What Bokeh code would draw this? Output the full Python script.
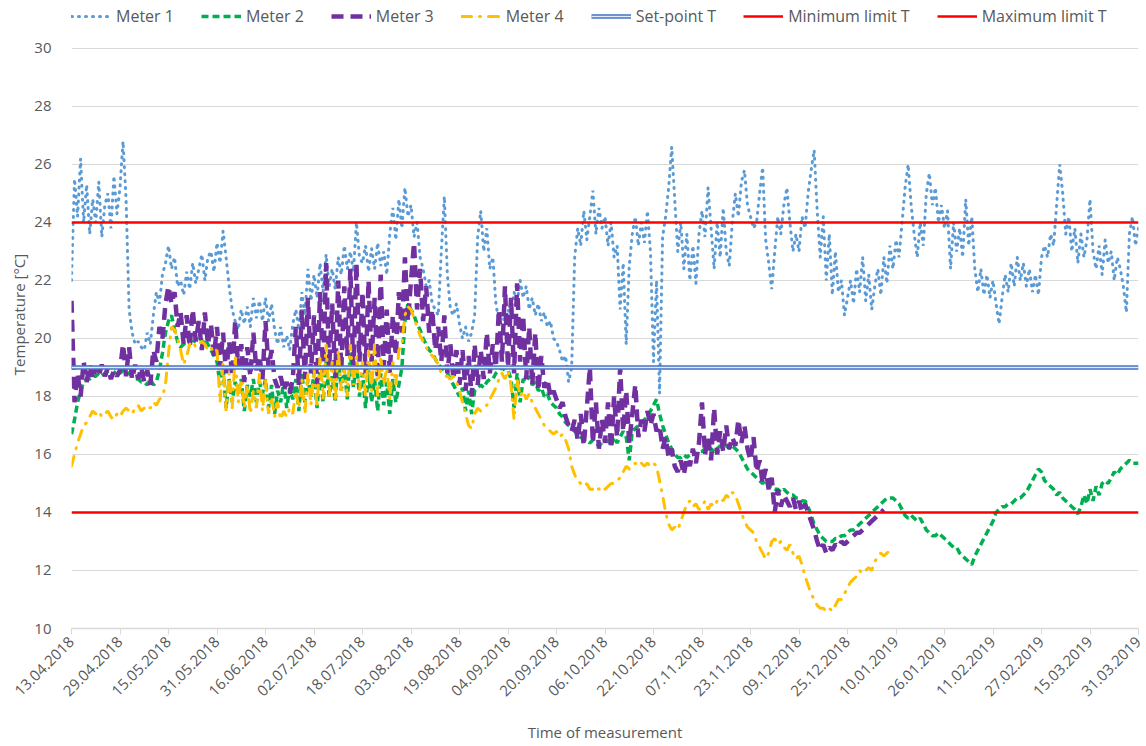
from datetime import datetime, timedelta
from math import pi

from bokeh.plotting import figure
from bokeh.models import (Legend, LegendItem, FixedTicker, DatetimeTickFormatter,
                          Range1d)
from bokeh.embed import file_html
from bokeh.resources import INLINE

# ---------------- data (daily readings from 13.04.2018) ----------------
start_date = "13.04.2018"

tick_labels = ["13.04.2018", "29.04.2018", "15.05.2018", "31.05.2018", "16.06.2018",
               "02.07.2018", "18.07.2018", "03.08.2018", "19.08.2018", "04.09.2018",
               "20.09.2018", "06.10.2018", "22.10.2018", "07.11.2018", "23.11.2018",
               "09.12.2018", "25.12.2018", "10.01.2019", "26.01.2019", "11.02.2019",
               "27.02.2019", "15.03.2019", "31.03.2019"]

y_ticks = [10, 12, 14, 16, 18, 20, 22, 24, 26, 28, 30]

meter1 = [
    22.0, 25.5, 24.2, 26.2, 24.0, 25.3, 23.6, 24.8, 24.0, 25.4, 23.5, 24.6, 25.0, 23.8, 25.6, 24.3,
    25.2, 26.8, 24.8, 21.0, 20.2, 19.8, 19.9, 19.7, 19.6, 20.2, 19.8, 20.8, 21.6, 21.2, 22.2, 22.6,
    23.2, 22.4, 22.8, 21.8, 22.0, 21.5, 22.3, 21.7, 22.6, 21.9, 22.4, 22.9, 22.0, 22.8, 23.0, 22.3,
    23.3, 22.6, 23.7, 22.8, 21.8, 21.0, 20.6, 20.3, 21.0, 20.5, 21.1, 20.4, 21.4, 20.7, 21.3, 20.6,
    21.4, 20.6, 21.2, 20.3, 19.8, 20.4, 19.7, 20.1, 19.6, 20.5, 21.0, 20.3, 21.6, 20.8, 22.4, 21.3,
    22.2, 21.4, 22.6, 21.6, 22.9, 21.8, 22.4, 21.7, 22.8, 22.2, 23.2, 22.4, 23.0, 22.3, 24.0, 22.8,
    22.6, 23.2, 22.3, 23.1, 22.4, 23.3, 22.5, 23.0, 22.2, 23.6, 24.5, 23.4, 24.8, 23.8, 25.2, 24.2,
    24.6, 23.5, 24.0, 22.8, 22.4, 21.8, 22.0, 21.2, 21.0, 20.8, 23.0, 24.9, 22.2, 21.0, 20.8, 21.2,
    20.5, 20.0, 20.4, 19.9, 20.2, 20.8, 23.5, 24.4, 23.0, 23.8, 22.4, 22.8, 21.2, 20.6, 20.9, 20.5,
    21.0, 20.7, 21.6, 21.2, 22.0, 21.4, 21.8, 21.0, 21.4, 20.8, 21.2, 20.6, 20.9, 20.4, 20.6, 20.0,
    19.9, 19.6, 19.2, 19.4, 18.5, 19.0, 22.8, 23.8, 23.2, 24.4, 23.4, 24.2, 25.1, 23.6, 24.5, 23.8,
    24.2, 23.2, 24.0, 22.8, 23.2, 21.0, 22.6, 19.8, 22.5, 23.6, 24.2, 23.2, 24.0, 23.3, 24.4, 23.0,
    19.2, 22.0, 18.1, 23.5, 24.2, 25.2, 26.6, 24.8, 23.0, 24.0, 22.4, 23.6, 22.0, 23.2, 21.9, 23.6,
    24.4, 23.5, 25.2, 23.8, 22.4, 24.0, 22.8, 24.5, 23.0, 22.5, 24.0, 25.0, 24.2, 25.4, 25.8, 24.6,
    24.2, 23.8, 24.0, 25.0, 25.9, 23.4, 22.6, 21.7, 23.0, 24.2, 23.6, 24.6, 25.2, 24.0, 23.0, 23.6,
    23.0, 24.2, 23.8, 25.0, 25.8, 26.5, 24.4, 22.8, 24.2, 22.0, 23.6, 21.5, 23.0, 21.6, 22.0, 20.8,
    21.4, 22.0, 21.2, 22.4, 21.6, 22.8, 21.3, 22.2, 21.0, 21.8, 22.4, 21.5, 22.8, 21.9, 23.2, 22.4,
    23.4, 22.8, 24.0, 25.2, 26.0, 24.6, 23.6, 22.8, 24.0, 23.2, 25.0, 25.7, 24.6, 25.2, 24.0, 24.6,
    23.8, 24.4, 22.4, 24.0, 23.0, 23.8, 22.8, 24.8, 23.2, 24.2, 22.4, 21.6, 22.4, 21.5, 22.2, 21.4,
    22.0, 21.2, 20.5, 21.4, 22.2, 21.6, 22.6, 21.8, 22.8, 22.0, 22.6, 21.8, 22.4, 21.6, 22.2, 21.5,
    22.8, 23.2, 22.8, 23.6, 23.2, 24.6, 26.0, 25.0, 23.6, 24.2, 23.0, 23.8, 22.6, 23.6, 22.8, 23.4,
    24.8, 23.0, 22.4, 23.2, 22.2, 23.4, 22.6, 23.0, 22.0, 22.8, 22.4, 21.8, 20.9, 23.6, 24.2, 23.2,
    23.8,
]

meter2 = [
    16.7, 17.2, 17.8, 18.2, 18.5, 18.6, 18.6, 18.7, 18.7, 18.8, 18.7, 18.8, 18.8, 18.7, 18.8, 18.9,
    18.8, 18.9, 18.9, 18.8, 18.7, 18.6, 18.6, 18.5, 18.5, 18.4, 18.6, 18.4, 18.5, 18.9, 19.5, 20.2,
    20.6, 20.8, 20.3, 19.9, 19.7, 19.8, 19.9, 20.0, 19.8, 20.0, 20.1, 19.9, 20.0, 19.8, 19.6, 19.4,
    19.2, 18.4, 19.0, 17.6, 18.6, 17.8, 18.5, 18.2, 18.6, 17.5, 18.4, 18.0, 18.6, 17.8, 18.5, 18.1,
    18.6, 17.6, 18.4, 17.4, 18.2, 17.8, 18.5, 17.6, 18.3, 17.9, 18.6, 17.5, 18.8, 17.8, 18.6, 18.0,
    18.8, 17.6, 18.9, 17.8, 19.2, 18.0, 18.7, 17.8, 19.4, 18.2, 19.0, 17.9, 19.5, 18.3, 19.2, 18.0,
    18.8, 17.6, 18.9, 17.8, 18.6, 17.5, 18.8, 17.7, 18.5, 17.4, 18.6, 17.8, 18.4, 19.0, 20.6, 21.2,
    21.0, 20.8, 20.5, 20.3, 20.0, 19.8, 19.6, 19.5, 19.3, 19.1, 19.0, 18.9, 18.8, 18.6, 18.4, 18.2,
    18.0, 18.3, 17.5, 18.2, 17.4, 18.2, 18.3, 18.4, 18.3, 18.5, 18.6, 18.6, 18.8, 18.9, 19.0, 18.9,
    18.9, 18.6, 17.6, 18.8, 17.8, 18.6, 18.5, 18.7, 18.4, 18.5, 18.2, 18.3, 18.0, 18.1, 17.8, 17.7,
    17.6, 17.4, 17.3, 17.1, 17.0, 16.9, 16.8, 16.7, 16.6, 16.5, 16.5, 16.4, 16.5, 16.4, 16.3, 16.4,
    16.4, 16.5, 16.3, 16.6, 16.4, 16.6, 16.8, 16.6, 15.8, 16.8, 16.9, 17.0, 17.1, 17.2, 17.3, 17.5,
    17.7, 17.9, 17.4, 17.0, 16.7, 16.4, 16.2, 16.0, 15.9, 15.9, 16.0, 15.9, 16.0, 16.1, 16.0, 16.1,
    16.1, 16.2, 16.1, 16.2, 16.1, 16.2, 16.3, 16.2, 16.3, 16.2, 16.3, 16.2, 16.1, 15.9, 15.7, 15.5,
    15.4, 15.3, 15.2, 15.1, 15.0, 15.1, 14.9, 14.9, 14.8, 14.8, 14.7, 14.8, 14.7, 14.6, 14.6, 14.5,
    14.5, 14.4, 14.4, 14.2, 13.9, 13.6, 13.4, 13.2, 13.1, 13.0, 13.0, 13.0, 13.1, 13.1, 13.2, 13.2,
    13.3, 13.4, 13.4, 13.5, 13.6, 13.7, 13.8, 13.9, 14.0, 14.1, 14.2, 14.3, 14.4, 14.5, 14.5, 14.5,
    14.4, 14.3, 14.1, 13.9, 13.8, 13.9, 13.8, 13.7, 13.8, 13.6, 13.4, 13.3, 13.2, 13.2, 13.3, 13.2,
    13.1, 13.0, 12.9, 12.8, 12.8, 12.6, 12.5, 12.4, 12.3, 12.2, 12.5, 12.7, 12.9, 13.1, 13.3, 13.5,
    13.7, 14.0, 14.1, 14.2, 14.2, 14.3, 14.3, 14.4, 14.5, 14.5, 14.6, 14.7, 14.9, 15.1, 15.3, 15.5,
    15.4, 15.1, 15.0, 14.9, 14.8, 14.6, 14.7, 14.5, 14.4, 14.3, 14.2, 14.1, 13.95, 14.2, 14.6, 14.3,
    14.8, 14.4, 14.9, 14.6, 15.0, 15.1, 15.0, 15.2, 15.4, 15.3, 15.5, 15.6, 15.7, 15.8, 15.7, 15.7,
    15.7,
]

meter3 = [
    21.3, 17.8, 18.8, 18.0, 19.2, 18.5, 19.1, 18.6, 19.0, 18.7, 19.1, 18.7, 19.0, 18.6, 18.9, 18.7,
    18.9, 19.8, 18.7, 19.7, 18.6, 19.1, 18.6, 19.0, 18.5, 18.9, 18.4, 19.6, 19.2, 20.4, 20.0, 21.2,
    21.8, 21.2, 21.6, 20.4, 20.9, 19.8, 20.8, 19.7, 21.0, 19.9, 20.6, 19.6, 20.9, 19.8, 20.5, 19.4,
    20.4, 19.0, 20.2, 18.8, 19.9, 18.7, 20.6, 19.0, 19.8, 18.5, 19.7, 18.7, 20.2, 18.9, 19.4, 18.6,
    20.6, 19.0, 19.6, 18.6, 18.3, 18.7, 18.2, 18.5, 18.1, 18.6, 20.4, 18.4, 21.0, 18.6, 21.4, 18.8,
    20.8, 18.4, 21.6, 18.8, 22.6, 19.0, 21.2, 18.6, 22.0, 18.9, 21.8, 19.4, 22.4, 18.8, 22.6, 19.2,
    21.6, 18.8, 22.0, 19.2, 21.4, 18.6, 22.2, 19.0, 21.0, 18.8, 20.8, 19.4, 21.6, 20.2, 22.8, 20.6,
    22.0, 23.3, 21.0, 22.4, 20.6, 21.8, 20.2, 21.0, 19.6, 20.4, 19.2, 20.8, 18.8, 19.8, 18.6, 19.6,
    18.4, 19.6, 18.2, 19.4, 18.0, 19.8, 18.4, 19.6, 18.6, 20.2, 18.8, 19.8, 19.0, 21.0, 19.2, 21.8,
    19.0, 21.4, 18.8, 21.9, 19.2, 20.8, 18.6, 20.4, 18.4, 20.2, 18.2, 19.4, 18.3, 18.6, 18.0, 18.2,
    17.9, 17.6, 17.8, 17.3, 17.0, 16.8, 17.2, 16.5, 17.4, 16.3, 17.6, 19.0, 16.4, 17.8, 16.2, 17.2,
    16.4, 17.8, 16.2, 18.0, 16.6, 19.0, 16.8, 18.2, 16.4, 17.4, 18.4, 16.6, 17.2, 16.8, 17.5, 17.0,
    17.4, 16.8, 17.0, 16.2, 16.6, 15.9, 16.2, 15.6, 15.4, 15.8, 15.3, 15.9, 15.6, 16.2, 15.7, 16.4,
    17.8, 16.0, 16.6, 15.8, 17.6, 16.0, 16.8, 16.1, 17.0, 16.2, 16.6, 16.3, 17.2, 16.4, 17.0, 16.2,
    15.8, 16.6, 15.4, 15.8, 15.0, 15.5, 14.8, 15.2, 14.0, 14.8, 14.2, 14.6, 14.4, 14.2, 14.5, 14.1,
    14.4, 14.0, 14.3, 14.0, 13.7, 13.4, 13.0, 12.7, 12.9, 12.6, 12.8, 12.7, 12.9, 12.8, 13.0, 12.9,
    13.0, 13.1, 13.2, 13.3, 13.3, 13.4, 13.5, 13.6, 13.7, 13.8, 13.9, 14.0, 14.1,
]

meter4 = [
    15.6, 16.0, 16.4, 16.7, 17.0, 17.1, 17.3, 17.5, 17.4, 17.5, 17.3, 17.4, 17.5, 17.3, 17.2, 17.4,
    17.3, 17.5, 17.6, 17.5, 17.4, 17.6, 17.7, 17.5, 17.6, 17.7, 17.6, 17.8, 17.7, 17.9, 18.0, 18.4,
    19.5, 20.4, 20.3, 20.0, 19.6, 19.1, 19.4, 19.8, 19.9, 19.7, 19.8, 19.9, 19.8, 19.6, 19.7, 19.5,
    19.6, 17.8, 19.2, 17.5, 18.8, 17.6, 19.4, 17.8, 18.6, 17.6, 18.4, 17.4, 18.2, 17.6, 18.8, 17.5,
    18.6, 17.4, 18.0, 17.3, 17.8, 17.2, 17.5, 17.3, 17.6, 17.4, 18.2, 17.6, 18.6, 17.4, 18.8, 17.7,
    19.0, 17.6, 19.4, 17.9, 19.8, 18.0, 19.2, 17.8, 19.6, 18.2, 19.0, 18.0, 19.8, 18.4, 19.4, 18.2,
    19.2, 18.0, 19.6, 18.2, 19.8, 18.0, 19.4, 18.4, 19.0, 17.9, 19.2, 18.4, 19.6, 19.8, 20.8, 21.1,
    21.0, 20.7, 20.4, 20.1, 19.9, 19.7, 19.5, 19.4, 19.3, 19.1, 18.8, 18.7, 18.7, 18.6, 18.7, 18.5,
    18.2, 17.8, 17.4, 17.0, 16.9, 17.4, 17.6, 17.5, 17.6, 17.7, 17.9, 18.1, 18.3, 18.6, 18.8, 18.6,
    18.9, 18.4, 17.2, 18.6, 18.0, 18.2, 17.9, 18.1, 17.8, 17.6, 17.4, 17.2, 17.0, 16.9, 16.8, 16.7,
    16.8, 16.6, 16.7, 16.5, 16.2, 15.6, 15.3, 15.1, 15.0, 14.9, 15.0, 14.8, 14.8, 14.9, 14.8, 14.9,
    14.8, 14.9, 15.0, 15.0, 15.1, 15.2, 15.4, 15.6, 15.5, 15.6, 15.7, 15.6, 15.7, 15.6, 15.7, 15.6,
    15.7, 15.6, 15.1, 14.6, 14.0, 13.6, 13.4, 13.5, 13.4, 13.7, 14.0, 14.3, 14.4, 14.2, 14.3, 14.1,
    14.2, 14.4, 14.1, 14.3, 14.2, 14.4, 14.5, 14.4, 14.6, 14.5, 14.7, 14.6, 14.3, 14.0, 13.7, 13.5,
    13.4, 13.3, 13.0, 12.8, 12.6, 12.4, 12.6, 13.0, 13.1, 12.9, 13.0, 12.8, 12.7, 12.9, 12.6, 12.4,
    12.5, 12.2, 11.8, 11.5, 11.2, 11.0, 10.8, 10.7, 10.7, 10.6, 10.7, 10.6, 10.8, 11.0, 11.0, 11.2,
    11.4, 11.6, 11.7, 11.8, 12.0, 11.9, 12.0, 12.1, 12.0, 12.3, 12.5, 12.6, 12.5, 12.6, 12.7,
]

setpoint_t = 19
min_limit_t = 14
max_limit_t = 24

# ---------------- layout constants ----------------
FONT = "Open Sans"
TXT = "#595959"
GRID = "#D9D9D9"
Y_VIEW_TOP = 31.655   # leaves room above the 30 gridline for the legend row

t0 = datetime.strptime(start_date, "%d.%m.%Y")
t_end = datetime.strptime(tick_labels[-1], "%d.%m.%Y")
epoch = datetime(1970, 1, 1)


def days(values):
    return [t0 + timedelta(days=i) for i in range(len(values))]


def ms(dt):
    return (dt - epoch).total_seconds() * 1000.0


p = figure(width=1144, height=744, x_axis_type="datetime",
           x_range=Range1d(t0, t_end), y_range=Range1d(10, Y_VIEW_TOP),
           output_backend="svg", toolbar_location=None,
           min_border_left=71, min_border_right=6, min_border_top=0,
           min_border_bottom=116)
p.outline_line_color = None
p.background_fill_color = "white"

# grid
yt = FixedTicker(ticks=y_ticks)
p.xgrid.visible = False
p.ygrid.ticker = yt
p.ygrid.grid_line_color = GRID
p.ygrid.grid_line_width = 1

# y axis
p.yaxis.ticker = yt
p.yaxis.axis_line_color = None
p.yaxis.major_tick_line_color = None
p.yaxis.minor_tick_line_color = None
p.yaxis.major_label_text_font = FONT
p.yaxis.major_label_text_font_size = "15px"
p.yaxis.major_label_text_color = TXT
p.yaxis.major_label_standoff = 14
p.yaxis.axis_label = "Temperature [°C]"
p.yaxis.axis_label_text_font = FONT
p.yaxis.axis_label_text_font_size = "15px"
p.yaxis.axis_label_text_font_style = "normal"
p.yaxis.axis_label_text_color = TXT
p.yaxis.axis_label_standoff = 2

# x axis
fmt = "%d.%m.%Y"
p.xaxis.ticker = FixedTicker(ticks=[ms(datetime.strptime(s, fmt)) for s in tick_labels])
p.xaxis.formatter = DatetimeTickFormatter(
    microseconds=fmt, milliseconds=fmt, seconds=fmt, minsec=fmt, minutes=fmt,
    hourmin=fmt, hours=fmt, days=fmt, months=fmt, years=fmt,
    strip_leading_zeros=False)
p.xaxis.major_label_orientation = pi / 4
p.xaxis.axis_line_color = GRID
p.xaxis.axis_line_width = 1.5
p.xaxis.major_tick_line_color = GRID
p.xaxis.major_tick_in = 0
p.xaxis.major_tick_out = 6
p.xaxis.minor_tick_line_color = None
p.xaxis.major_label_text_font = FONT
p.xaxis.major_label_text_font_size = "15px"
p.xaxis.major_label_text_color = TXT
p.xaxis.major_label_standoff = 5
p.xaxis.axis_label = "Time of measurement"
p.xaxis.axis_label_text_font = FONT
p.xaxis.axis_label_text_font_size = "15px"
p.xaxis.axis_label_text_font_style = "normal"
p.xaxis.axis_label_text_color = TXT
p.xaxis.axis_label_standoff = 18

# series
r1 = p.line(days(meter1), meter1, line_color="#5B9BD5", line_width=3,
            line_dash="1 6", line_cap="round")
r2 = p.line(days(meter2), meter2, line_color="#00B050", line_width=3.5,
            line_dash="7 4")
r3 = p.line(days(meter3), meter3, line_color="#7030A0", line_width=4.5,
            line_dash="12 7")
r4 = p.line(days(meter4), meter4, line_color="#FFC000", line_width=3,
            line_dash="10 8 1 8", line_cap="round")

# reference lines
xr = [t0, t_end]
rs1 = p.line(xr, [setpoint_t] * 2, line_color="#4472C4", line_width=4.5)
rs2 = p.line(xr, [setpoint_t] * 2, line_color="#E4EBF8", line_width=1.6)
rmin = p.line(xr, [min_limit_t] * 2, line_color="#FF0000", line_width=2.6)
rmax = p.line(xr, [max_limit_t] * 2, line_color="#FF0000", line_width=2.6)

legend = Legend(items=[
    LegendItem(label="Meter 1", renderers=[r1]),
    LegendItem(label="Meter 2", renderers=[r2]),
    LegendItem(label="Meter 3", renderers=[r3]),
    LegendItem(label="Meter 4", renderers=[r4]),
    LegendItem(label="Set-point T", renderers=[rs1, rs2]),
    LegendItem(label="Minimum limit T", renderers=[rmin]),
    LegendItem(label="Maximum limit T", renderers=[rmax]),
], orientation="horizontal", location=(0, 601))
legend.glyph_width = 40
legend.glyph_height = 20
legend.label_height = 20
legend.label_standoff = 5
legend.spacing = 27
legend.padding = 0
legend.margin = 0
legend.border_line_color = None
legend.background_fill_alpha = 0
legend.label_text_font = FONT
legend.label_text_font_size = "16px"
legend.label_text_color = TXT
legend.label_text_baseline = "middle"
p.add_layout(legend, "center")

open("out.html", "w").write(file_html(p, INLINE))
